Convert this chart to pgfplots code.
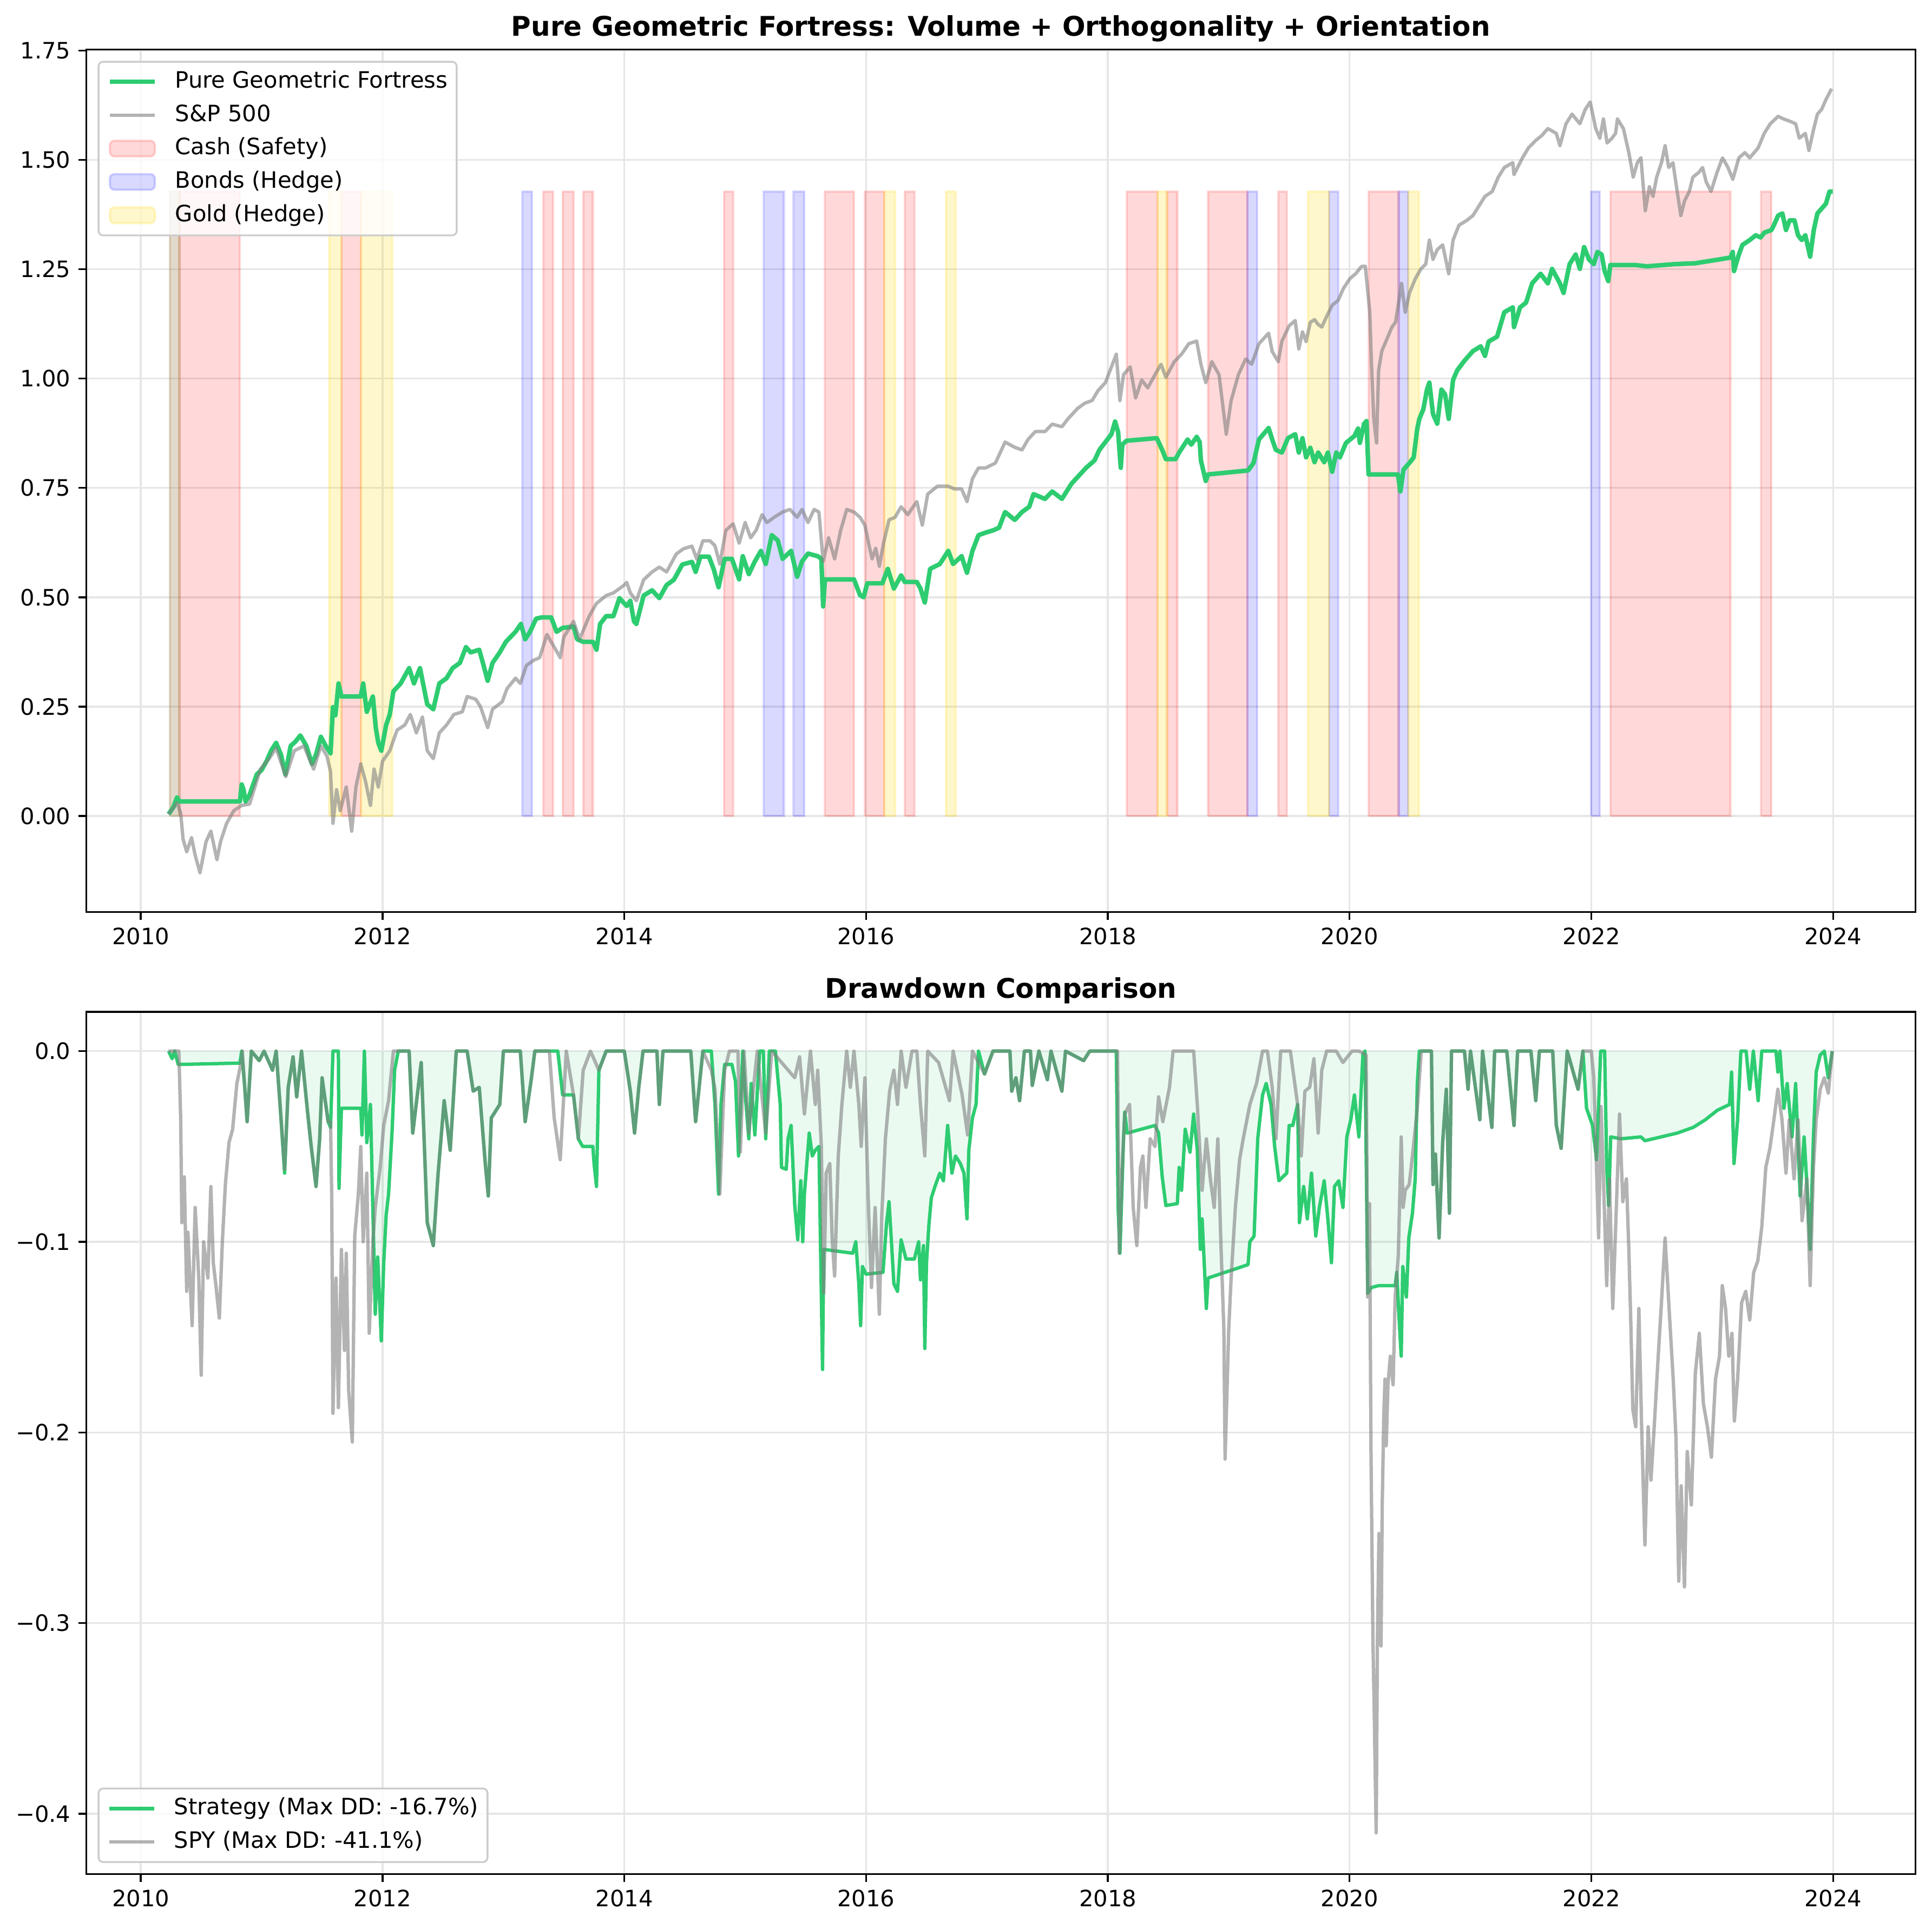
\documentclass[border=0pt]{standalone}
\usepackage{fontspec}
\setmainfont{DejaVu Sans}
\usepackage{pgfplots}
\pgfplotsset{compat=1.18}
\usepackage{pgfplotstable}
\definecolor{strat}{HTML}{2ECC71}
\definecolor{spy}{HTML}{808080}
\definecolor{gridc}{HTML}{E6E6E6}
\definecolor{legedge}{HTML}{CCCCCC}
\definecolor{goldc}{HTML}{FFD700}

\pgfplotstableread{
x y
2010.23 0.004
2010.27 0.02
2010.30 0.042
2010.32 0.033
2010.82 0.033
2010.835 0.072
2010.85 0.06
2010.867 0.033
2010.90 0.048
2010.96 0.095
2011.00 0.105
2011.04 0.125
2011.08 0.15
2011.12 0.167
2011.16 0.14
2011.196 0.095
2011.24 0.16
2011.28 0.17
2011.32 0.184
2011.37 0.16
2011.416 0.119
2011.45 0.14
2011.49 0.181
2011.53 0.16
2011.57 0.143
2011.59 0.249
2011.61 0.23
2011.636 0.303
2011.66 0.273
2011.82 0.273
2011.84 0.303
2011.87 0.238
2011.92 0.273
2011.945 0.2
2011.965 0.167
2011.99 0.149
2012.03 0.208
2012.06 0.232
2012.09 0.285
2012.15 0.303
2012.22 0.338
2012.26 0.303
2012.31 0.338
2012.37 0.255
2012.42 0.244
2012.47 0.303
2012.53 0.315
2012.58 0.338
2012.64 0.35
2012.69 0.386
2012.73 0.374
2012.80 0.38
2012.83 0.35
2012.87 0.309
2012.91 0.35
2012.97 0.374
2013.02 0.398
2013.10 0.421
2013.145 0.439
2013.18 0.404
2013.22 0.421
2013.27 0.451
2013.315 0.454
2013.395 0.454
2013.44 0.421
2013.49 0.43
2013.58 0.433
2013.61 0.404
2013.66 0.398
2013.74 0.398
2013.77 0.38
2013.80 0.439
2013.85 0.457
2013.91 0.457
2013.96 0.498
2014.02 0.48
2014.05 0.492
2014.08 0.445
2014.10 0.439
2014.16 0.504
2014.23 0.516
2014.29 0.498
2014.35 0.528
2014.41 0.54
2014.48 0.575
2014.56 0.581
2014.59 0.558
2014.63 0.593
2014.70 0.593
2014.74 0.564
2014.78 0.523
2014.83 0.588
2014.89 0.588
2014.95 0.541
2014.98 0.594
2015.03 0.553
2015.08 0.582
2015.13 0.606
2015.17 0.576
2015.22 0.642
2015.27 0.630
2015.31 0.588
2015.38 0.606
2015.43 0.547
2015.47 0.582
2015.52 0.600
2015.60 0.594
2015.63 0.588
2015.645 0.479
2015.66 0.541
2015.90 0.541
2015.95 0.505
2015.98 0.500
2016.01 0.532
2016.135 0.532
2016.18 0.565
2016.23 0.520
2016.29 0.550
2016.32 0.535
2016.42 0.535
2016.45 0.52
2016.486 0.488
2016.53 0.565
2016.61 0.576
2016.68 0.606
2016.72 0.576
2016.79 0.594
2016.835 0.556
2016.88 0.606
2016.93 0.642
2016.99 0.648
2017.05 0.653
2017.10 0.659
2017.15 0.695
2017.23 0.677
2017.29 0.695
2017.35 0.707
2017.385 0.736
2017.48 0.725
2017.54 0.742
2017.62 0.725
2017.70 0.760
2017.76 0.778
2017.82 0.796
2017.89 0.813
2017.93 0.837
2017.98 0.855
2018.03 0.873
2018.06 0.902
2018.085 0.878
2018.107 0.796
2018.12 0.849
2018.154 0.858
2018.405 0.864
2018.45 0.837
2018.48 0.816
2018.56 0.816
2018.59 0.831
2018.66 0.861
2018.69 0.849
2018.735 0.867
2018.76 0.855
2018.77 0.813
2018.81 0.766
2018.83 0.781
2019.16 0.790
2019.205 0.807
2019.25 0.861
2019.33 0.887
2019.36 0.861
2019.39 0.837
2019.44 0.831
2019.49 0.864
2019.55 0.873
2019.58 0.831
2019.61 0.864
2019.64 0.820
2019.675 0.842
2019.71 0.809
2019.74 0.831
2019.79 0.809
2019.82 0.831
2019.856 0.787
2019.89 0.831
2019.92 0.820
2019.97 0.853
2020.04 0.869
2020.07 0.886
2020.085 0.853
2020.12 0.897
2020.14 0.903
2020.157 0.781
2020.40 0.781
2020.42 0.742
2020.446 0.792
2020.50 0.809
2020.53 0.820
2020.56 0.886
2020.577 0.908
2020.61 0.930
2020.64 0.975
2020.66 0.991
2020.69 0.919
2020.725 0.897
2020.76 0.975
2020.79 0.964
2020.82 0.908
2020.856 0.997
2020.89 1.019
2020.95 1.041
2021.02 1.063
2021.085 1.074
2021.12 1.052
2021.15 1.085
2021.22 1.096
2021.28 1.152
2021.35 1.163
2021.36 1.118
2021.41 1.163
2021.46 1.174
2021.51 1.218
2021.58 1.240
2021.64 1.218
2021.675 1.251
2021.74 1.218
2021.77 1.196
2021.82 1.262
2021.87 1.284
2021.905 1.251
2021.94 1.301
2021.98 1.273
2022.02 1.262
2022.05 1.290
2022.085 1.284
2022.11 1.246
2022.14 1.223
2022.157 1.260
2022.36 1.260
2022.46 1.257
2022.69 1.262
2022.86 1.264
2023.02 1.271
2023.15 1.277
2023.17 1.290
2023.18 1.246
2023.22 1.284
2023.25 1.306
2023.31 1.317
2023.36 1.328
2023.40 1.323
2023.43 1.334
2023.49 1.340
2023.51 1.351
2023.545 1.373
2023.58 1.378
2023.61 1.340
2023.64 1.362
2023.68 1.362
2023.71 1.328
2023.74 1.317
2023.77 1.328
2023.81 1.279
2023.84 1.340
2023.87 1.378
2023.905 1.389
2023.94 1.400
2023.97 1.428
2023.997 1.428
}\stratEq

\pgfplotstableread{
x y
2010.23 0.004
2010.30 0.03
2010.33 0.007
2010.35 -0.053
2010.38 -0.082
2010.42 -0.05
2010.45 -0.09
2010.49 -0.13
2010.54 -0.059
2010.58 -0.035
2010.63 -0.100
2010.66 -0.059
2010.71 -0.017
2010.77 0.012
2010.835 0.024
2010.90 0.027
2010.99 0.107
2011.06 0.13
2011.12 0.155
2011.20 0.090
2011.27 0.149
2011.35 0.160
2011.43 0.107
2011.49 0.160
2011.54 0.137
2011.57 0.101
2011.59 -0.017
2011.62 0.060
2011.65 0.012
2011.70 0.066
2011.745 -0.035
2011.78 0.066
2011.82 0.119
2011.86 0.078
2011.90 0.024
2011.93 0.107
2011.965 0.066
2012.00 0.125
2012.06 0.149
2012.12 0.196
2012.185 0.208
2012.23 0.232
2012.28 0.190
2012.33 0.226
2012.37 0.149
2012.42 0.131
2012.47 0.190
2012.53 0.208
2012.59 0.232
2012.66 0.238
2012.70 0.273
2012.77 0.267
2012.81 0.250
2012.87 0.202
2012.91 0.244
2012.99 0.261
2013.03 0.291
2013.10 0.315
2013.14 0.303
2013.19 0.344
2013.25 0.356
2013.30 0.362
2013.36 0.415
2013.41 0.391
2013.47 0.362
2013.50 0.409
2013.58 0.445
2013.63 0.404
2013.71 0.457
2013.77 0.486
2013.85 0.504
2013.91 0.510
2014.00 0.528
2014.02 0.534
2014.05 0.510
2014.10 0.492
2014.16 0.540
2014.23 0.558
2014.29 0.569
2014.35 0.558
2014.43 0.599
2014.49 0.611
2014.56 0.617
2014.60 0.587
2014.65 0.629
2014.71 0.629
2014.75 0.618
2014.79 0.576
2014.84 0.653
2014.90 0.668
2014.95 0.624
2015.00 0.671
2015.045 0.636
2015.09 0.653
2015.14 0.689
2015.18 0.671
2015.24 0.683
2015.31 0.695
2015.37 0.701
2015.43 0.683
2015.47 0.701
2015.52 0.671
2015.57 0.701
2015.61 0.695
2015.645 0.582
2015.69 0.636
2015.74 0.588
2015.79 0.653
2015.84 0.701
2015.90 0.695
2015.95 0.683
2015.99 0.665
2016.03 0.612
2016.05 0.588
2016.08 0.612
2016.11 0.571
2016.145 0.624
2016.19 0.677
2016.24 0.683
2016.29 0.707
2016.345 0.689
2016.42 0.719
2016.465 0.665
2016.51 0.736
2016.59 0.754
2016.68 0.754
2016.73 0.748
2016.79 0.748
2016.835 0.719
2016.88 0.771
2016.93 0.796
2016.99 0.796
2017.07 0.807
2017.15 0.855
2017.23 0.843
2017.29 0.837
2017.34 0.861
2017.40 0.879
2017.48 0.879
2017.54 0.896
2017.62 0.890
2017.67 0.908
2017.75 0.932
2017.81 0.944
2017.87 0.950
2017.92 0.973
2017.98 0.991
2018.03 1.027
2018.07 1.056
2018.10 0.950
2018.13 1.009
2018.185 1.027
2018.23 0.956
2018.28 0.997
2018.33 0.979
2018.39 1.009
2018.44 1.033
2018.48 1.003
2018.55 1.039
2018.61 1.056
2018.67 1.080
2018.735 1.086
2018.77 1.033
2018.81 0.991
2018.86 1.039
2018.92 1.009
2018.98 0.873
2019.02 0.950
2019.08 1.009
2019.14 1.045
2019.19 1.033
2019.25 1.080
2019.33 1.104
2019.36 1.062
2019.41 1.039
2019.44 1.086
2019.50 1.121
2019.55 1.133
2019.58 1.068
2019.61 1.107
2019.64 1.085
2019.675 1.129
2019.71 1.135
2019.74 1.124
2019.77 1.118
2019.806 1.140
2019.856 1.168
2019.905 1.179
2019.95 1.207
2020.003 1.229
2020.05 1.240
2020.10 1.257
2020.13 1.257
2020.167 1.152
2020.18 1.041
2020.20 0.908
2020.223 0.853
2020.24 1.019
2020.266 1.063
2020.30 1.085
2020.35 1.118
2020.38 1.129
2020.43 1.218
2020.46 1.152
2020.495 1.196
2020.544 1.229
2020.59 1.251
2020.63 1.262
2020.66 1.317
2020.69 1.273
2020.725 1.295
2020.77 1.306
2020.82 1.240
2020.856 1.317
2020.905 1.351
2020.97 1.362
2021.02 1.373
2021.07 1.395
2021.12 1.417
2021.18 1.428
2021.23 1.461
2021.28 1.483
2021.35 1.494
2021.36 1.467
2021.43 1.505
2021.48 1.528
2021.54 1.545
2021.59 1.556
2021.64 1.572
2021.71 1.561
2021.74 1.533
2021.79 1.583
2021.84 1.605
2021.905 1.583
2021.95 1.616
2021.99 1.633
2022.036 1.572
2022.07 1.550
2022.10 1.594
2022.13 1.539
2022.17 1.550
2022.20 1.561
2022.216 1.594
2022.265 1.572
2022.31 1.517
2022.346 1.461
2022.38 1.494
2022.41 1.505
2022.446 1.384
2022.48 1.439
2022.51 1.417
2022.54 1.461
2022.58 1.494
2022.61 1.533
2022.64 1.483
2022.675 1.494
2022.71 1.428
2022.74 1.373
2022.77 1.406
2022.81 1.428
2022.84 1.461
2022.89 1.472
2022.92 1.483
2022.95 1.450
2022.99 1.428
2023.04 1.472
2023.085 1.505
2023.13 1.483
2023.17 1.456
2023.22 1.505
2023.27 1.517
2023.31 1.505
2023.38 1.528
2023.43 1.561
2023.48 1.583
2023.545 1.600
2023.59 1.594
2023.64 1.589
2023.69 1.583
2023.72 1.550
2023.77 1.561
2023.80 1.522
2023.84 1.572
2023.87 1.605
2023.905 1.616
2023.94 1.638
2023.987 1.663
}\spyEq

\pgfplotstableread{
x y
2010.23 0
2010.26 -0.004
2010.28 0
2010.31 -0.007
2010.82 -0.0063
2010.835 0
2010.86 -0.019
2010.88 -0.037
2010.915 0
2010.98 -0.005
2011.02 0
2011.09 -0.010
2011.12 0
2011.15 -0.026
2011.19 -0.064
2011.22 -0.019
2011.26 -0.003
2011.29 -0.024
2011.33 0
2011.38 -0.032
2011.41 -0.050
2011.45 -0.071
2011.48 -0.046
2011.50 -0.014
2011.55 -0.037
2011.57 -0.040
2011.59 0
2011.635 0
2011.64 -0.072
2011.66 -0.030
2011.82 -0.030
2011.83 -0.044
2011.85 0
2011.87 -0.048
2011.90 -0.028
2011.94 -0.138
2011.96 -0.108
2011.99 -0.152
2012.01 -0.111
2012.03 -0.086
2012.05 -0.075
2012.08 -0.041
2012.10 -0.010
2012.13 0
2012.22 0
2012.25 -0.043
2012.32 -0.006
2012.37 -0.090
2012.42 -0.102
2012.46 -0.064
2012.51 -0.026
2012.56 -0.052
2012.61 0
2012.70 0
2012.75 -0.021
2012.80 -0.019
2012.85 -0.059
2012.875 -0.076
2012.90 -0.035
2012.97 -0.028
2013.00 0
2013.14 0
2013.18 -0.037
2013.23 -0.015
2013.26 0
2013.45 0
2013.49 -0.023
2013.58 -0.023
2013.62 -0.046
2013.655 -0.050
2013.74 -0.050
2013.75 -0.059
2013.77 -0.071
2013.79 -0.010
2013.85 0
2014.00 0
2014.05 -0.021
2014.085 -0.043
2014.12 -0.019
2014.155 0
2014.27 0
2014.29 -0.028
2014.32 0
2014.55 0
2014.58 -0.028
2014.59 -0.037
2014.65 0
2014.72 0
2014.75 -0.028
2014.78 -0.075
2014.80 -0.028
2014.83 -0.007
2014.89 -0.007
2014.92 -0.016
2014.945 -0.055
2014.98 0
2014.996 -0.019
2015.03 -0.046
2015.05 -0.017
2015.08 -0.044
2015.12 0
2015.15 0
2015.17 -0.046
2015.20 0
2015.25 0
2015.29 -0.028
2015.30 -0.061
2015.34 -0.062
2015.355 -0.046
2015.38 -0.039
2015.41 -0.081
2015.435 -0.099
2015.46 -0.068
2015.476 -0.100
2015.49 -0.075
2015.53 -0.043
2015.555 -0.055
2015.58 -0.052
2015.61 -0.050
2015.64 -0.167
2015.65 -0.104
2015.89 -0.106
2015.915 -0.100
2015.94 -0.122
2015.955 -0.144
2015.97 -0.113
2016.00 -0.117
2016.14 -0.116
2016.17 -0.090
2016.19 -0.079
2016.21 -0.100
2016.23 -0.122
2016.26 -0.126
2016.29 -0.099
2016.33 -0.109
2016.40 -0.109
2016.435 -0.100
2016.45 -0.120
2016.475 -0.102
2016.486 -0.156
2016.50 -0.111
2016.52 -0.091
2016.54 -0.077
2016.57 -0.071
2016.61 -0.064
2016.64 -0.068
2016.675 -0.039
2016.71 -0.064
2016.74 -0.055
2016.78 -0.059
2016.81 -0.064
2016.835 -0.088
2016.85 -0.052
2016.88 -0.035
2016.91 -0.028
2016.93 0
2016.98 -0.012
2017.05 0
2017.19 0
2017.205 -0.021
2017.24 -0.014
2017.27 -0.026
2017.31 0
2017.36 0
2017.375 -0.018
2017.43 0
2017.50 -0.015
2017.53 0
2017.62 -0.021
2017.65 0
2017.80 -0.005
2017.85 0
2018.07 0
2018.085 -0.082
2018.10 -0.106
2018.13 -0.046
2018.14 -0.032
2018.16 -0.043
2018.39 -0.039
2018.42 -0.043
2018.45 -0.066
2018.48 -0.081
2018.575 -0.080
2018.59 -0.061
2018.61 -0.073
2018.64 -0.041
2018.68 -0.053
2018.71 -0.033
2018.74 -0.052
2018.765 -0.104
2018.78 -0.088
2018.815 -0.135
2018.83 -0.119
2019.16 -0.112
2019.175 -0.100
2019.21 -0.097
2019.24 -0.046
2019.28 -0.023
2019.31 -0.017
2019.35 -0.028
2019.38 -0.050
2019.415 -0.068
2019.48 -0.064
2019.50 -0.039
2019.53 -0.039
2019.57 -0.028
2019.585 -0.090
2019.62 -0.071
2019.65 -0.088
2019.685 -0.064
2019.72 -0.097
2019.75 -0.082
2019.79 -0.068
2019.82 -0.088
2019.85 -0.111
2019.875 -0.071
2019.91 -0.068
2019.945 -0.082
2019.977 -0.045
2020.01 -0.036
2020.04 -0.023
2020.077 -0.045
2020.11 -0.002
2020.127 0
2020.15 -0.127
2020.18 -0.124
2020.24 -0.123
2020.377 -0.123
2020.39 -0.116
2020.41 -0.141
2020.427 -0.160
2020.44 -0.113
2020.47 -0.129
2020.49 -0.098
2020.52 -0.085
2020.543 -0.067
2020.56 -0.017
2020.577 0
2020.677 0
2020.69 -0.070
2020.71 -0.054
2020.74 -0.098
2020.77 -0.048
2020.80 -0.020
2020.826 -0.085
2020.843 0
2020.95 0
2020.98 -0.02
2021.00 0
2021.077 -0.036
2021.10 0
2021.177 -0.040
2021.20 0
2021.30 0
2021.36 -0.039
2021.39 0
2021.50 0
2021.54 -0.026
2021.57 0
2021.68 0
2021.71 -0.039
2021.75 -0.051
2021.78 -0.02
2021.80 0
2021.89 -0.02
2021.93 0
2021.96 -0.030
2022.01 -0.039
2022.043 -0.057
2022.077 0
2022.11 0
2022.127 -0.061
2022.143 -0.081
2022.16 -0.045
2022.243 -0.046
2022.41 -0.045
2022.443 -0.047
2022.577 -0.045
2022.71 -0.043
2022.843 -0.040
2022.943 -0.036
2023.043 -0.031
2023.143 -0.028
2023.16 -0.011
2023.18 -0.059
2023.21 -0.036
2023.237 0
2023.28 0
2023.31 -0.020
2023.34 0
2023.38 -0.026
2023.41 0
2023.527 0
2023.543 -0.011
2023.56 0
2023.593 -0.030
2023.62 -0.017
2023.66 -0.045
2023.69 -0.017
2023.727 -0.076
2023.76 -0.045
2023.783 -0.070
2023.81 -0.104
2023.837 -0.045
2023.86 -0.011
2023.893 -0.002
2023.927 0
2023.96 -0.014
2023.993 0
}\stratDD

\pgfplotstableread{
x y
2010.23 0
2010.315 0
2010.33 -0.035
2010.34 -0.090
2010.36 -0.066
2010.38 -0.126
2010.39 -0.095
2010.425 -0.144
2010.45 -0.082
2010.48 -0.119
2010.50 -0.170
2010.52 -0.100
2010.555 -0.119
2010.58 -0.071
2010.60 -0.111
2010.62 -0.122
2010.65 -0.140
2010.675 -0.100
2010.70 -0.070
2010.73 -0.048
2010.76 -0.041
2010.795 -0.017
2010.83 -0.006
2010.84 0
2010.86 -0.019
2010.88 -0.037
2010.915 0
2010.98 -0.005
2011.02 0
2011.09 -0.010
2011.12 0
2011.15 -0.026
2011.19 -0.062
2011.22 -0.019
2011.26 -0.003
2011.29 -0.024
2011.33 0
2011.38 -0.032
2011.41 -0.050
2011.45 -0.071
2011.48 -0.046
2011.50 -0.014
2011.55 -0.037
2011.57 -0.037
2011.58 -0.077
2011.59 -0.190
2011.615 -0.119
2011.635 -0.187
2011.66 -0.104
2011.685 -0.157
2011.70 -0.106
2011.72 -0.178
2011.75 -0.205
2011.77 -0.097
2011.80 -0.075
2011.82 -0.050
2011.84 -0.100
2011.87 -0.064
2011.89 -0.148
2011.92 -0.100
2011.94 -0.082
2011.98 -0.061
2012.01 -0.039
2012.05 -0.026
2012.09 0
2012.22 0
2012.25 -0.043
2012.32 -0.006
2012.37 -0.090
2012.42 -0.102
2012.46 -0.064
2012.51 -0.026
2012.56 -0.052
2012.61 0
2012.70 0
2012.75 -0.021
2012.80 -0.019
2012.85 -0.059
2012.875 -0.076
2012.90 -0.035
2012.97 -0.028
2013.00 0
2013.14 0
2013.18 -0.037
2013.23 -0.015
2013.26 0
2013.38 0
2013.42 -0.035
2013.47 -0.057
2013.52 0
2013.58 -0.023
2013.62 -0.046
2013.66 -0.010
2013.72 0
2013.79 -0.010
2013.85 0
2014.00 0
2014.05 -0.021
2014.085 -0.043
2014.12 -0.019
2014.155 0
2014.27 0
2014.29 -0.028
2014.32 0
2014.55 0
2014.58 -0.028
2014.59 -0.037
2014.65 0
2014.72 -0.010
2014.75 -0.020
2014.79 -0.075
2014.83 -0.010
2014.87 0
2014.94 0
2014.96 -0.053
2014.99 0
2015.03 -0.043
2015.10 0
2015.17 -0.043
2015.22 0
2015.41 -0.014
2015.45 -0.003
2015.49 -0.033
2015.54 0
2015.58 -0.028
2015.60 -0.010
2015.63 -0.050
2015.65 -0.127
2015.67 -0.064
2015.70 -0.059
2015.72 -0.099
2015.74 -0.118
2015.77 -0.055
2015.80 -0.028
2015.84 0
2015.87 -0.019
2015.90 0
2015.94 -0.028
2015.96 -0.050
2015.99 -0.014
2016.02 -0.082
2016.045 -0.124
2016.075 -0.082
2016.11 -0.138
2016.13 -0.086
2016.16 -0.046
2016.195 -0.021
2016.23 -0.010
2016.26 -0.028
2016.29 0
2016.33 -0.019
2016.38 0
2016.42 0
2016.45 -0.028
2016.486 -0.055
2016.51 0
2016.60 -0.006
2016.69 -0.026
2016.72 0
2016.795 -0.023
2016.84 -0.044
2016.88 0
2016.98 -0.012
2017.05 0
2017.19 0
2017.205 -0.021
2017.24 -0.014
2017.27 -0.026
2017.31 0
2017.36 0
2017.375 -0.018
2017.43 0
2017.50 -0.015
2017.53 0
2017.62 -0.021
2017.65 0
2017.80 -0.005
2017.85 0
2018.08 0
2018.095 -0.106
2018.12 -0.059
2018.14 -0.033
2018.18 -0.028
2018.21 -0.082
2018.24 -0.102
2018.27 -0.061
2018.29 -0.055
2018.315 -0.082
2018.35 -0.046
2018.39 -0.050
2018.42 -0.024
2018.455 -0.037
2018.51 -0.019
2018.54 0
2018.71 0
2018.74 -0.028
2018.78 -0.073
2018.815 -0.046
2018.85 -0.068
2018.88 -0.082
2018.91 -0.046
2018.935 -0.100
2018.96 -0.146
2018.97 -0.214
2019.00 -0.146
2019.02 -0.119
2019.055 -0.082
2019.09 -0.057
2019.12 -0.046
2019.175 -0.028
2019.23 -0.017
2019.28 0
2019.32 0
2019.36 -0.019
2019.39 -0.046
2019.43 0
2019.51 0
2019.57 -0.028
2019.60 -0.055
2019.63 -0.021
2019.67 -0.019
2019.705 -0.004
2019.74 -0.043
2019.77 -0.010
2019.81 0
2019.89 0
2019.945 -0.006
2020.02 0
2020.077 0
2020.137 -0.002
2020.15 -0.129
2020.165 -0.080
2020.177 -0.210
2020.193 -0.309
2020.203 -0.343
2020.22 -0.410
2020.23 -0.309
2020.243 -0.253
2020.26 -0.312
2020.27 -0.238
2020.283 -0.191
2020.293 -0.172
2020.303 -0.207
2020.317 -0.175
2020.337 -0.160
2020.36 -0.175
2020.377 -0.129
2020.403 -0.107
2020.427 -0.045
2020.443 -0.082
2020.46 -0.073
2020.493 -0.070
2020.527 -0.051
2020.56 -0.030
2020.593 0
2020.677 0
2020.69 -0.070
2020.71 -0.054
2020.74 -0.098
2020.77 -0.048
2020.80 -0.020
2020.826 -0.085
2020.843 0
2020.95 0
2020.98 -0.02
2021.00 0
2021.077 -0.036
2021.10 0
2021.177 -0.040
2021.20 0
2021.30 0
2021.36 -0.039
2021.39 0
2021.50 0
2021.54 -0.026
2021.57 0
2021.68 0
2021.71 -0.039
2021.75 -0.051
2021.78 -0.02
2021.80 0
2021.89 -0.02
2021.93 0
2022.00 0
2022.02 -0.014
2022.06 -0.098
2022.08 -0.029
2022.10 -0.067
2022.127 -0.123
2022.15 -0.067
2022.177 -0.135
2022.21 -0.076
2022.233 -0.033
2022.26 -0.079
2022.29 -0.067
2022.31 -0.104
2022.327 -0.144
2022.343 -0.188
2022.367 -0.197
2022.393 -0.135
2022.417 -0.200
2022.443 -0.259
2022.47 -0.197
2022.493 -0.225
2022.52 -0.197
2022.553 -0.160
2022.577 -0.135
2022.61 -0.098
2022.643 -0.135
2022.677 -0.172
2022.70 -0.203
2022.723 -0.278
2022.743 -0.228
2022.77 -0.281
2022.793 -0.210
2022.827 -0.238
2022.86 -0.169
2022.893 -0.148
2022.927 -0.185
2022.96 -0.197
2022.993 -0.213
2023.027 -0.172
2023.06 -0.160
2023.083 -0.123
2023.11 -0.135
2023.137 -0.160
2023.163 -0.148
2023.183 -0.194
2023.21 -0.172
2023.243 -0.132
2023.277 -0.126
2023.31 -0.141
2023.343 -0.116
2023.377 -0.110
2023.41 -0.092
2023.443 -0.061
2023.477 -0.051
2023.51 -0.036
2023.543 -0.020
2023.577 -0.036
2023.61 -0.064
2023.637 -0.036
2023.677 -0.067
2023.71 -0.036
2023.743 -0.089
2023.783 -0.067
2023.81 -0.123
2023.837 -0.061
2023.86 -0.036
2023.893 -0.020
2023.927 -0.014
2023.96 -0.022
2023.993 0
}\spyDD

\newcommand{\regime}[3]{\addplot[draw=#1, draw opacity=0.15, fill=#1, fill opacity=0.15, line width=1pt, forget plot] coordinates {(#2,0) (#2,1.428) (#3,1.428) (#3,0) (#2,0)};}
\newcommand{\goldregime}[2]{\addplot[draw=goldc, draw opacity=0.2, fill=goldc, fill opacity=0.2, line width=1pt, forget plot] coordinates {(#1,0) (#1,1.428) (#2,1.428) (#2,0) (#1,0)};}

\pgfplotsset{
  patchlegend/.style={legend image code/.code={\draw[##1] (0pt,-3.5pt) rectangle (20pt,3.5pt);}},
  linelegend/.style={legend image code/.code={\draw[##1] (0pt,0pt) -- (20pt,0pt);}},
  every axis title/.style={at={(0.5,1)}, anchor=base, yshift=6pt, font=\bfseries\fontsize{12}{14.4}\selectfont},
  mybase/.style={
    scale only axis, width=811.1pt, height=382.5pt,
    xmin=2009.55, xmax=2024.68,
    xtick={2010,2012,2014,2016,2018,2020,2022,2024},
    xticklabels={2010,2012,2014,2016,2018,2020,2022,2024},
    tick pos=left, tick align=outside, major tick length=3.5pt,
    tick style={black, line width=0.8pt},
    axis line style={line width=0.8pt},
    grid=major, major grid style={gridc, line width=0.8pt},
    ticklabel style={font=\fontsize{10}{12}\selectfont},
    legend cell align=left,
    legend style={draw=legedge, line width=0.8pt, rounded corners=2pt, fill=white, fill opacity=0.8, draw opacity=1, text opacity=1,
      inner xsep=4pt, inner ysep=4pt, font=\fontsize{10}{12}\selectfont, row sep=5pt, column sep=8pt,
      nodes={inner sep=0pt, text height=7.6pt, text depth=2.2pt}},
  },
}

\begin{document}
\begin{tikzpicture}
\useasboundingbox (0,0) rectangle (856.8pt,855.6pt);
\begin{axis}[mybase, at={(38.3pt,451.1pt)}, anchor=south west,
  ymin=-0.2197, ymax=1.7527,
  ytick={0,0.25,0.5,0.75,1,1.25,1.5,1.75},
  yticklabels={0.00,0.25,0.50,0.75,1.00,1.25,1.50,1.75},
  title={Pure Geometric Fortress: Volume + Orthogonality + Orientation},
  legend style={at={(0,1)}, anchor=north west, xshift=5pt, yshift=-5pt}]
% cash
\regime{red}{2010.32}{2010.82}
\regime{red}{2011.66}{2011.82}
\regime{red}{2013.33}{2013.41}
\regime{red}{2013.49}{2013.58}
\regime{red}{2013.66}{2013.74}
\regime{red}{2014.825}{2014.90}
\regime{red}{2015.66}{2015.90}
\regime{red}{2015.99}{2016.15}
\regime{red}{2016.32}{2016.40}
\regime{red}{2018.157}{2018.41}
\regime{red}{2018.49}{2018.575}
\regime{red}{2018.83}{2019.154}
\regime{red}{2019.41}{2019.48}
\regime{red}{2020.157}{2020.406}
\regime{red}{2022.157}{2023.15}
\regime{red}{2023.405}{2023.49}
% bonds
\regime{blue}{2010.24}{2010.32}
\regime{blue}{2013.157}{2013.236}
\regime{blue}{2015.154}{2015.32}
\regime{blue}{2015.40}{2015.49}
\regime{blue}{2019.154}{2019.236}
\regime{blue}{2019.83}{2019.905}
\regime{blue}{2020.406}{2020.485}
\regime{blue}{2021.997}{2022.07}
% gold
\goldregime{2010.24}{2010.32}
\goldregime{2011.56}{2011.66}
\goldregime{2011.82}{2012.08}
\goldregime{2016.15}{2016.24}
\goldregime{2016.66}{2016.74}
\goldregime{2018.41}{2018.49}
\goldregime{2019.656}{2019.83}
\goldregime{2020.485}{2020.574}
\addplot[linelegend, strat, line width=2pt, line join=round] table[x=x,y=y] {\stratEq};
\addlegendentry{Pure Geometric Fortress}
\addplot[linelegend, spy, opacity=0.6, line width=1.5pt, line join=round] table[x=x,y=y] {\spyEq};
\addlegendentry{S\&P 500}
\addlegendimage{patchlegend, draw=red, draw opacity=0.15, fill=red, fill opacity=0.15, line width=1pt}
\addlegendentry{Cash (Safety)}
\addlegendimage{patchlegend, draw=blue, draw opacity=0.15, fill=blue, fill opacity=0.15, line width=1pt}
\addlegendentry{Bonds (Hedge)}
\addlegendimage{patchlegend, draw=goldc, draw opacity=0.2, fill=goldc, fill opacity=0.2, line width=1pt}
\addlegendentry{Gold (Hedge)}
\end{axis}

\begin{axis}[mybase, at={(38.3pt,24.3pt)}, anchor=south west,
  ymin=-0.4317, ymax=0.0206,
  ytick={-0.4,-0.3,-0.2,-0.1,0},
  yticklabels={−0.4,−0.3,−0.2,−0.1,0.0},
  title={Drawdown Comparison},
  legend style={at={(0,0)}, anchor=south west, xshift=5pt, yshift=5pt}]
\addplot[fill=strat, fill opacity=0.1, draw=none, forget plot] table[x=x,y=y] {\stratDD};
\addplot[linelegend, strat, line width=1.5pt, line join=round] table[x=x,y=y] {\stratDD};
\addlegendentry{Strategy (Max DD: -16.7\%)}
\addplot[linelegend, spy, opacity=0.6, line width=1.5pt, line join=round] table[x=x,y=y] {\spyDD};
\addlegendentry{SPY (Max DD: -41.1\%)}
\end{axis}
\end{tikzpicture}
\end{document}
